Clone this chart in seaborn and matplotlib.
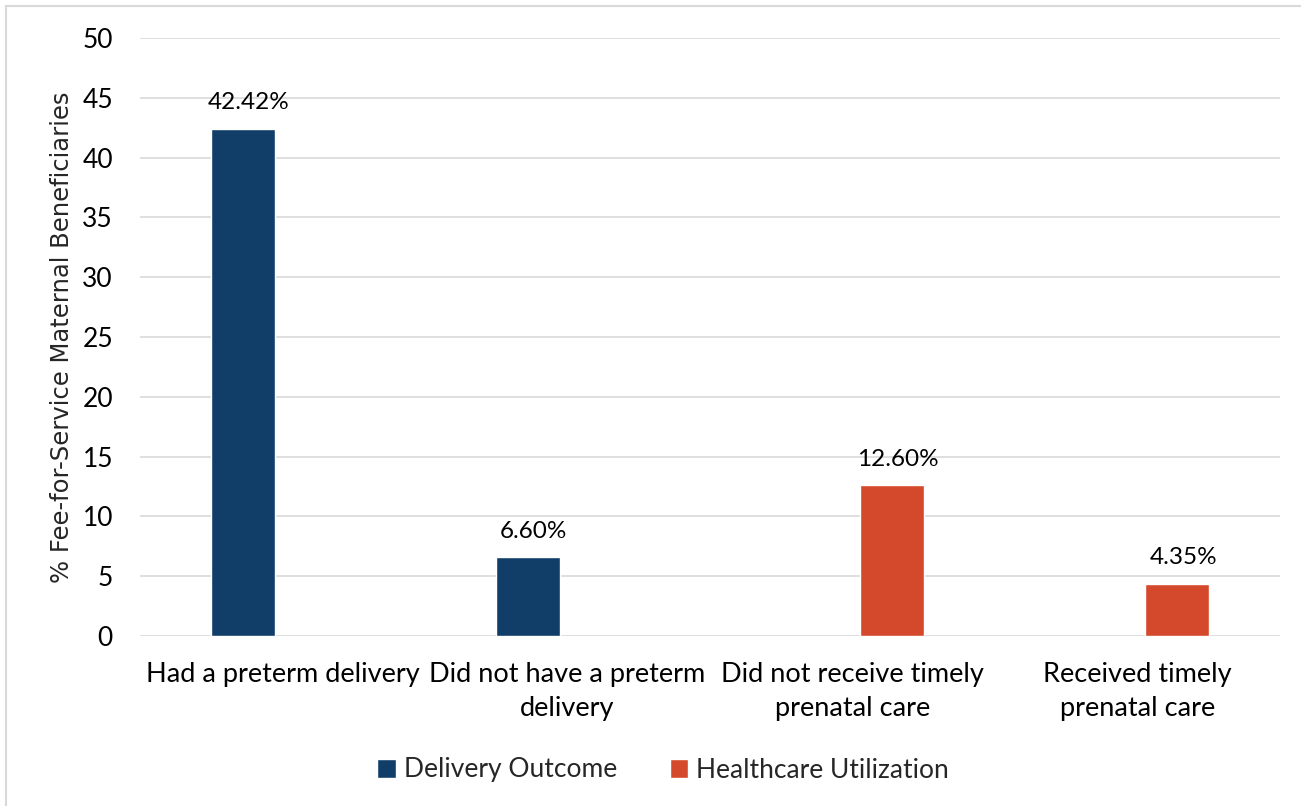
import matplotlib
matplotlib.use("Agg")
import matplotlib.pyplot as plt
from matplotlib.patches import Rectangle
import seaborn as sns
import pandas as pd

# Chart data
categories = ["Had a preterm delivery", "Did not have a preterm\ndelivery",
              "Did not receive timely\nprenatal care", "Received timely\nprenatal care"]
groups = ["Delivery Outcome", "Delivery Outcome", "Healthcare Utilization", "Healthcare Utilization"]
values = [42.42, 6.60, 12.60, 4.35]
value_labels = ["42.42%", "6.60%", "12.60%", "4.35%"]
series = ["Delivery Outcome", "Healthcare Utilization"]
colors = ["#103E68", "#D4492B"]
y_ticks = [0, 5, 10, 15, 20, 25, 30, 35, 40, 45, 50]

df = pd.DataFrame({"category": categories, "group": groups, "value": values})

sns.set_theme(style="white")
plt.rcParams["font.family"] = ["Lato", "DejaVu Sans"]

fig = plt.figure(figsize=(13.01, 8.06), dpi=100)
ax = fig.add_axes([140 / 1301, 1 - 636 / 806, (1280 - 140) / 1301, (636 - 38) / 806])

# Outer frame of the figure
fig.patches.append(Rectangle((6 / 1301, -0.05), 1.1, 1 - 6 / 806 + 0.05,
                             transform=fig.transFigure, fill=False,
                             edgecolor="#D9D9D9", linewidth=1.5, zorder=0))

sns.barplot(data=df, x="category", y="value", hue="group", hue_order=series,
            order=categories, palette=colors, width=0.56, gap=0.2,
            dodge=True, saturation=1, ax=ax, legend=True)

ax.set_ylim(0, 50)
ax.set_yticks(y_ticks)
ax.yaxis.grid(True, color="#D9D9D9", linewidth=1.2)
ax.set_axisbelow(True)
for s in ax.spines.values():
    s.set_visible(False)
ax.tick_params(axis="both", length=0, colors="black")
ax.tick_params(axis="y", pad=19.5, labelsize=19)
ax.tick_params(axis="x", pad=19, labelsize=19.5)
for lbl in ax.get_xticklabels():
    lbl.set_linespacing(1.45)
ax.set_xlabel("")
ax.set_ylabel("% Fee-for-Service Maternal Beneficiaries", fontsize=17.5,
              family=["Liberation Sans Narrow", "DejaVu Sans"])
ax.yaxis.set_label_coords(-0.0575, 0.5)

# Value labels above each bar
bars = [p for p in ax.patches if p.get_height() == p.get_height() and p.get_height() > 0]
for bar in bars:
    h = bar.get_height()
    idx = min(range(len(values)), key=lambda i: abs(values[i] - h))
    ax.text(bar.get_x() + bar.get_width() / 2 + 0.02, h + 1.3, value_labels[idx],
            ha="center", va="bottom", fontsize=17.5, color="black")

ax.legend(loc="center", bbox_to_anchor=(663 / 1301, 1 - 770 / 806),
          bbox_transform=fig.transFigure, ncol=2,
          frameon=False, fontsize=19, handlelength=0.7, handleheight=0.7,
          handletextpad=0.3, columnspacing=2.0)

fig.savefig("out.png", dpi=100)
